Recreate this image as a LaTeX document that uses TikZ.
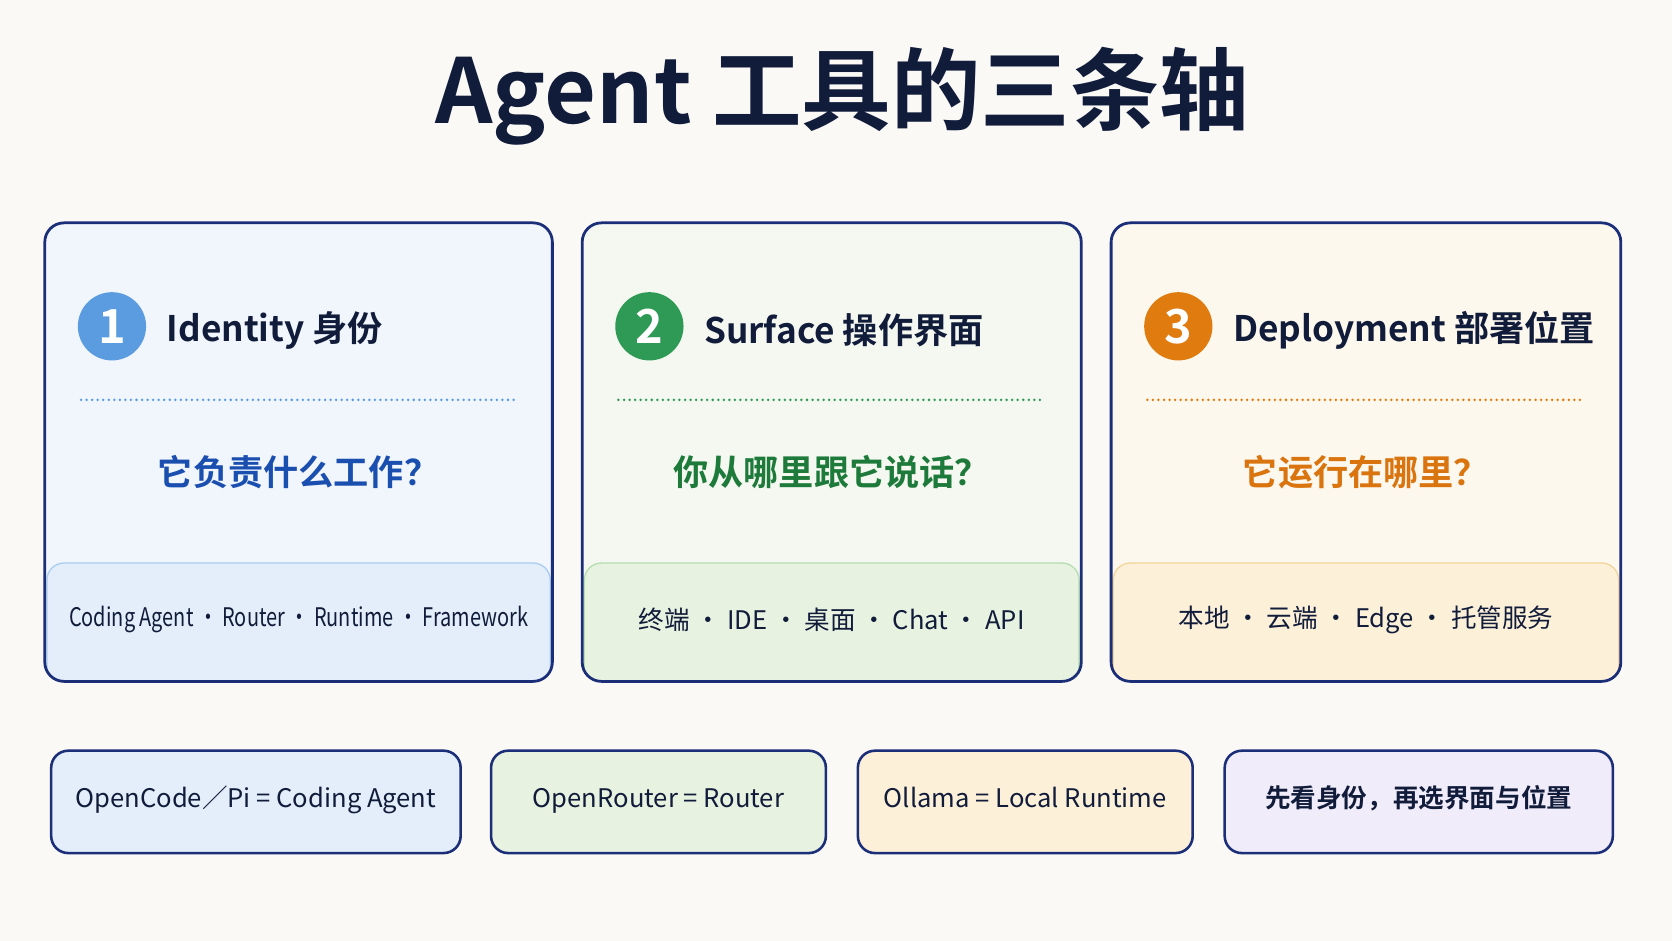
\documentclass[tikz,border=0pt]{standalone}
\usepackage{fontspec}
\setmainfont{Noto Sans CJK SC}[BoldFont={Noto Sans CJK SC Bold}]
\usetikzlibrary{positioning}
\definecolor{bgpaper}{HTML}{FAF9F6}
\definecolor{navy}{HTML}{1B2E78}
\definecolor{ink}{HTML}{111C3A}
\definecolor{blueA}{HTML}{5B9BE0}\definecolor{blueQ}{HTML}{1A4FB0}
\definecolor{blueF}{HTML}{F1F6FD}\definecolor{blueB}{HTML}{E3EEFA}\definecolor{blueL}{HTML}{A9CDF0}
\definecolor{greenA}{HTML}{2E9A55}\definecolor{greenQ}{HTML}{1E7A3A}
\definecolor{greenF}{HTML}{F4F8F0}\definecolor{greenB}{HTML}{E8F2E1}\definecolor{greenL}{HTML}{B5DDB0}
\definecolor{orangeA}{HTML}{E07B10}\definecolor{orangeQ}{HTML}{D9740F}
\definecolor{orangeF}{HTML}{FDF8EE}\definecolor{orangeB}{HTML}{FCF0D9}\definecolor{orangeL}{HTML}{F3D49A}
\definecolor{purpleB}{HTML}{F1ECFA}
\tikzset{
  card/.style={draw=navy,line width=1.3pt,rounded corners=9pt},
  band/.style={rounded corners=8pt,line width=0.6pt},
  badge/.style={circle,minimum size=32pt,inner sep=0pt,text=white,font=\bfseries\fontsize{22}{22}\selectfont},
  head/.style={anchor=west,inner sep=0pt,text=ink,font=\bfseries\fontsize{16.5}{20}\selectfont},
  ask/.style={inner sep=0pt,font=\bfseries\fontsize{16.5}{18}\selectfont},
  tags/.style={inner sep=0pt,text=ink,font=\fontsize{12}{14}\selectfont},
  note/.style={draw=navy,line width=1.2pt,rounded corners=8pt,minimum height=48pt,text height=0.8em,text depth=0.25em,font=\fontsize{12}{14}\selectfont,text=ink},
  dotline/.style={line width=1.3pt,line cap=round,dash pattern=on 0pt off 2.6pt}
}
\begin{document}
\begin{tikzpicture}[x=0.5pt,y=-0.5pt]
\fill[bgpaper] (0,0) rectangle (1568,882);
\useasboundingbox (0,0) rectangle (1568,882);

% title
\node[text=ink,font=\bfseries\fontsize{42}{46}\selectfont] (title) at (790,90) {Agent 工具的三条轴};

% three cards: x-left, x-right, colour, number, head, question, tags, squeeze
\foreach \xl/\xr/\c/\n/\hd/\q/\tg/\sx [count=\i] in {
  42/518/blue/1/Identity 身份/它负责什么工作？/Coding Agent · Router · Runtime · Framework/0.78,
  546/1014/green/2/Surface 操作界面/你从哪里跟它说话？/终端 · IDE · 桌面 · Chat · API/1,
  1042/1520/orange/3/Deployment 部署位置/它运行在哪里？/本地 · 云端 · Edge · 托管服务/1}{
  \fill[\c F,rounded corners=9pt] (\xl,209) rectangle (\xr,639);
  \begin{scope}
    \clip[rounded corners=9pt] (\xl,209) rectangle (\xr,639);
    \filldraw[band,fill=\c B,draw=\c L] (\xl+2,528) rectangle (\xr-2,660);
  \end{scope}
  \draw[card] (\xl,209) rectangle (\xr,639);
  \node[badge,fill=\c A] (badge\i) at (\xl+63,306) {\n};
  \node[head] (head\i) at (\xl+114,310) {\hd};
  \draw[dotline,draw=\c A] (\xl+34,375) -- (\xr-34,375);
  \node[ask,text=\c Q] (ask\i) at ({(\xl+\xr)/2},443) {\q};
  \node[tags] (tags\i) at ({(\xl+\xr)/2},581) {\scalebox{\sx}[1]{\tg}};
}

% bottom notes
\node[note,fill=blueB,minimum width=192pt] (noteA) at (240,752) {OpenCode／Pi = Coding Agent};
\node[note,fill=greenB,minimum width=157pt] (noteB) at (617.5,752) {OpenRouter = Router};
\node[note,fill=orangeB,minimum width=157pt] (noteC) at (961.5,752) {Ollama = Local Runtime};
\node[note,fill=purpleB,minimum width=182pt] (noteD) at (1330.5,752) {\bfseries 先看身份，再选界面与位置};
\end{tikzpicture}
\end{document}
